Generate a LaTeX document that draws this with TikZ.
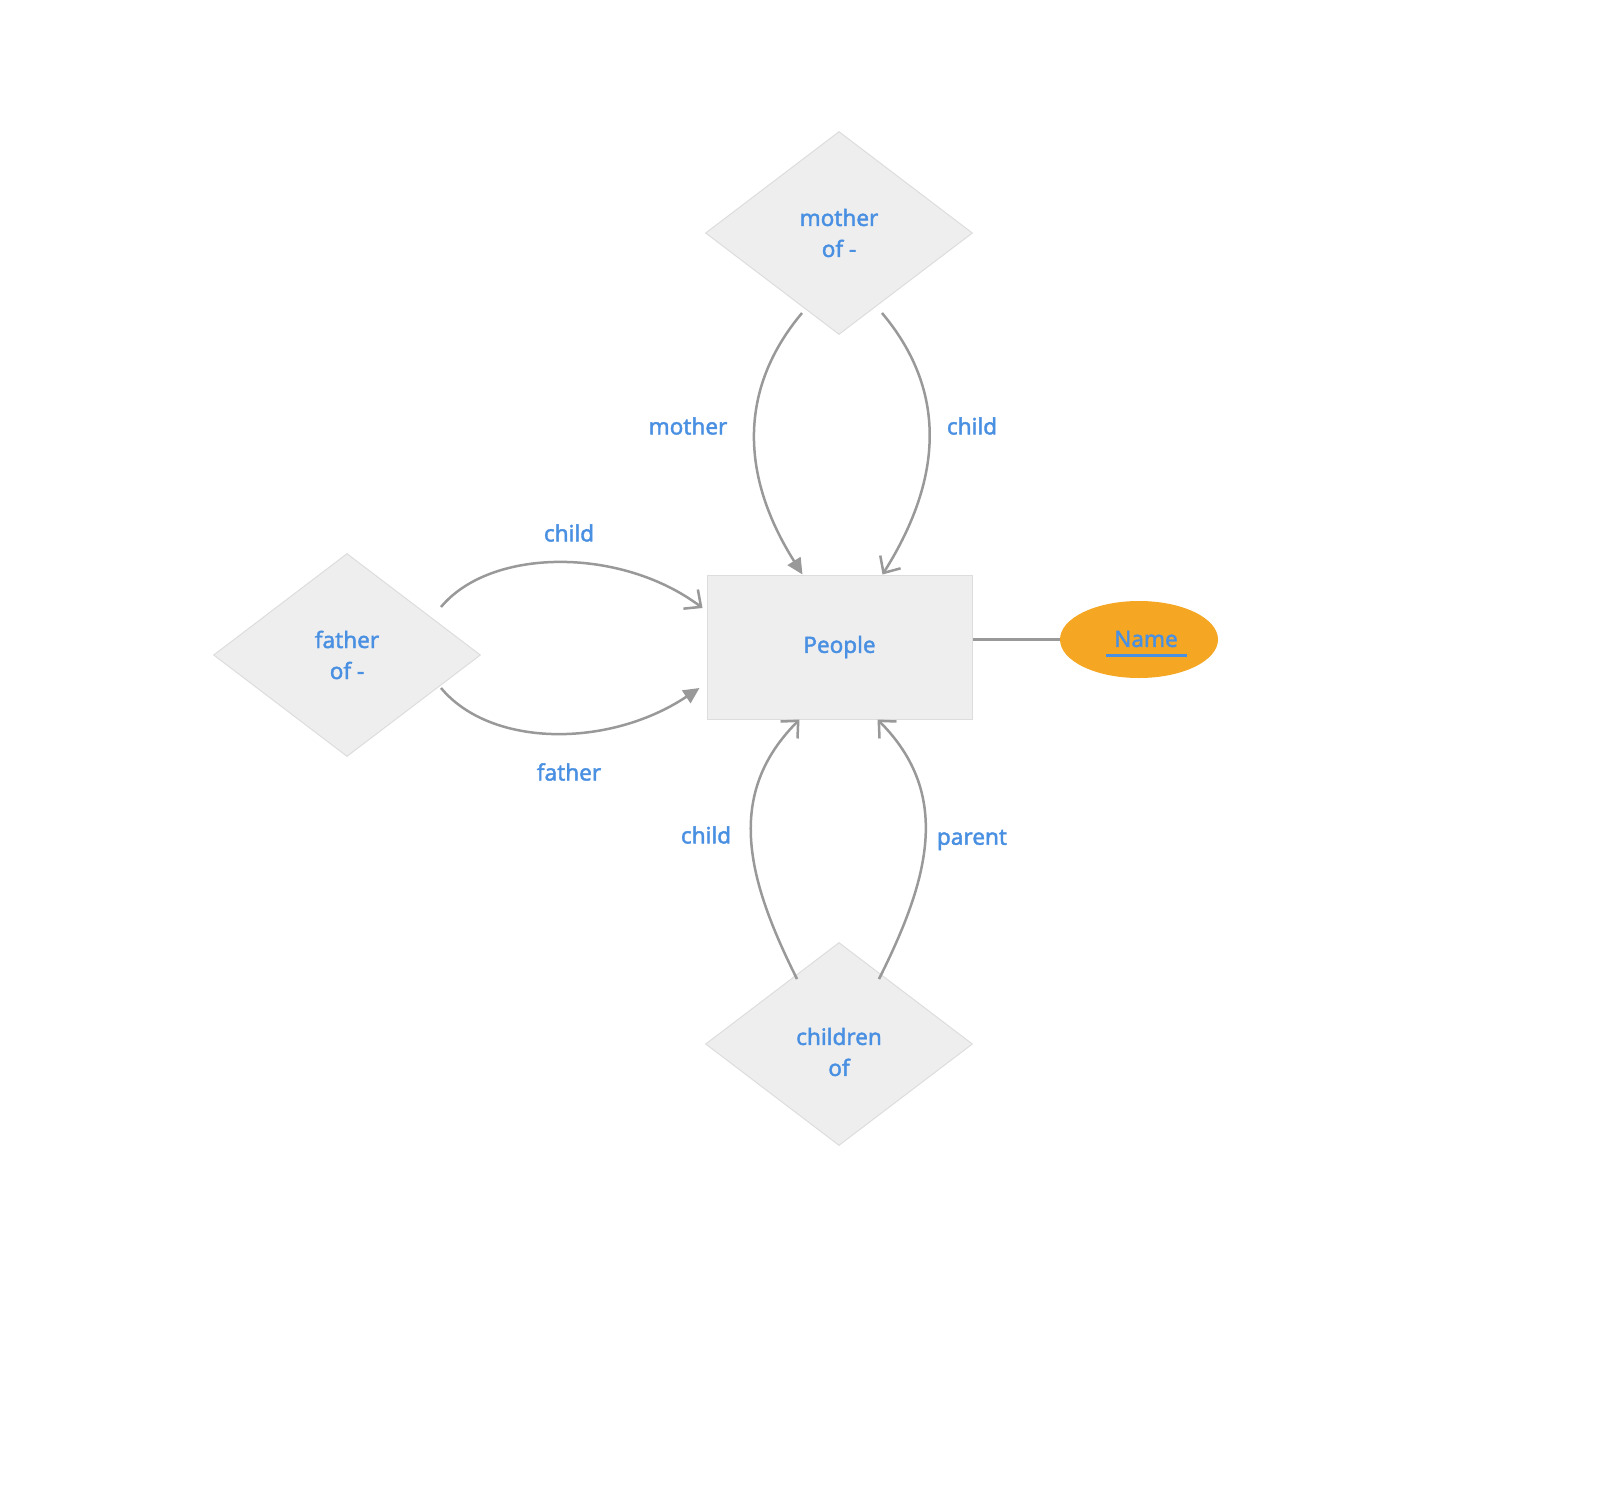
\documentclass[tikz,border=0pt]{standalone}
\usepackage{fontspec}
\setmainfont{Noto Sans}[FakeBold=1.8]
\usetikzlibrary{shapes.geometric,arrows.meta}
\definecolor{boxgray}{HTML}{EEEEEE}
\definecolor{edgegray}{HTML}{DDDDDD}
\definecolor{linkgray}{HTML}{999999}
\definecolor{textblue}{HTML}{4A90E2}
\definecolor{keyorange}{HTML}{F5A623}
\tikzset{
  relation/.style={diamond,fill=boxgray,draw=edgegray,line width=1pt,
    minimum width=267pt,minimum height=203pt,inner sep=0pt,align=center},
  entity/.style={rectangle,fill=boxgray,draw=edgegray,line width=1pt,
    minimum width=265pt,minimum height=144pt},
  attrib/.style={ellipse,fill=keyorange,minimum width=158pt,minimum height=77pt},
  role/.style={inner sep=0pt},
  link/.style={draw=linkgray,line width=2.5pt},
  solidtip/.style={link,-{Triangle[length=16pt,width=15pt]}},
  opentip/.style={link,-{Straight Barb[length=13pt,width=24pt]}}
}
\begin{document}
\begin{tikzpicture}[x=1pt,y=-1pt,font=\fontsize{22.5}{31}\selectfont\color{textblue}]
  \useasboundingbox[fill=white] (0,0) rectangle (1603,1493);

  % nodes
  \node[entity] (people) at (839.5,647) {People};
  \node[relation] (mother) at (839,233) {mother\\of -};
  \node[relation] (father) at (347,655) {father\\of -};
  \node[relation] (children) at (839,1044) {\rule{0pt}{33pt}children\\of};
  \node[attrib] (name) at (1139,639.5) {};
  \node[role] (nametxt) at (1146,639) {Name};
  \draw[textblue,line width=3pt] (1106,655) -- (1187,655);

  % mother of
  \draw[solidtip] ([shift={(-37pt,22pt)}]mother.south)
    .. controls +(-63,75) and +(-63,-100) .. ([xshift=-37pt]people.north);
  \draw[opentip] ([shift={(43pt,22pt)}]mother.south)
    .. controls +(63,75) and +(63,-100) .. ([xshift=43pt]people.north);

  % father of
  \draw[opentip] ([shift={(-40pt,48pt)}]father.east)
    .. controls +(50,-60) and +(-81,-61) .. ([shift={(-4pt,39pt)}]people.west);
  \draw[solidtip] ([shift={(-40pt,-33pt)}]father.east)
    .. controls +(50,60) and +(-90,60) .. ([shift={(-7pt,-41pt)}]people.west);

  % children of
  \draw[opentip] ([shift={(-42pt,-37pt)}]children.north)
    .. controls +(-50,-100) and +(-75,75) .. ([xshift=-40pt]people.south);
  \draw[opentip] ([shift={(40pt,-37pt)}]children.north)
    .. controls +(50,-100) and +(75,75) .. ([xshift=38pt]people.south);

  % key attribute
  \draw[link] (people.east |- name.west) -- (name.west);

  % role labels
  \node[role] (lmother) at (688,426) {mother};
  \node[role] (lchildm) at (972,426) {child};
  \node[role] (lchildf) at (569,533) {child};
  \node[role] (lfather) at (569,772) {father};
  \node[role] (lchildc) at (706,835) {child};
  \node[role] (lparent) at (972,840) {parent};
\end{tikzpicture}
\end{document}
